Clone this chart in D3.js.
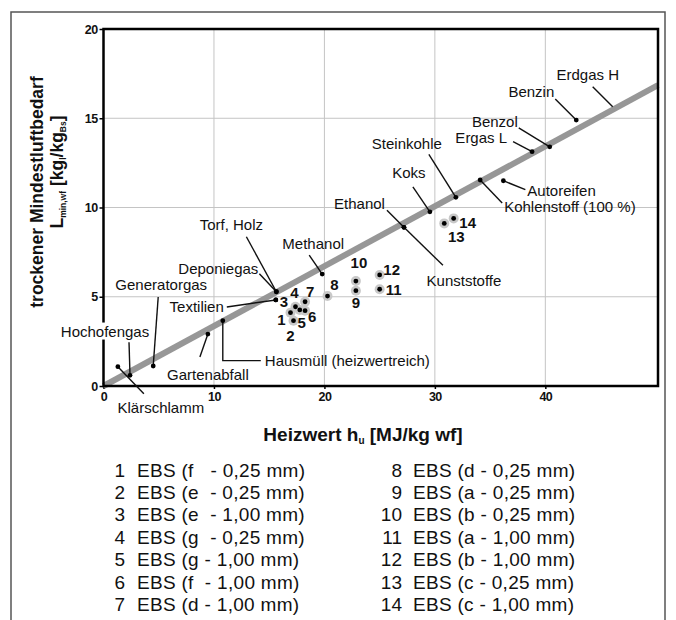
<!DOCTYPE html>
<html>
<head>
<meta charset="utf-8">
<script src="https://cdn.jsdelivr.net/npm/d3@7"></script>
<style>
  body { margin: 0; background: #fff; }
  text { font-family: "Liberation Sans", Arial, sans-serif; }
</style>
</head>
<body>
<div id="chart"></div>
<script>
// fuels plotted on / near the characteristic line
let fuelNames = ['Klärschlamm', 'Hochofengas', 'Generatorgas', 'Gartenabfall', 'Hausmüll (heizwertreich)',
  'Textilien', 'Deponiegas', 'Torf, Holz', 'Methanol', 'Ethanol', 'Kunststoffe', 'Koks', 'Steinkohle',
  'Kohlenstoff (100 %)', 'Autoreifen', 'Ergas L', 'Benzol', 'Benzin', 'Erdgas H'];
let fuelHu = [1.3, 2.4, 4.5, 9.45, 10.8, 15.6, 15.65, 15.65, 19.8, 27.2, 27.2, 29.55, 31.9, 34.1, 36.2, 38.8, 40.4, 42.8, 46.1];
let fuelLmin = [1.08, 0.6, 1.12, 2.91, 3.66, 4.82, 5.28, 5.28, 6.27, 8.89, 8.89, 9.76, 10.57, 11.54, 11.5, 13.13, 13.4, 14.9, 15.65];
let fuelNoDot = ['Erdgas H'];

// EBS samples
let ebsIds = [1, 2, 3, 4, 5, 6, 7, 8, 9, 10, 11, 12, 13, 14];
let ebsHu = [16.93, 17.2, 15.6, 17.38, 17.77, 18.25, 18.25, 20.28, 22.85, 22.85, 25.0, 25.0, 30.85, 31.7];
let ebsLmin = [4.11, 3.66, 4.82, 4.44, 4.26, 4.22, 4.72, 5.04, 5.34, 5.88, 5.42, 6.22, 9.11, 9.39];
let ebsDesc = ['EBS (f   - 0,25 mm)', 'EBS (e  - 0,25 mm)', 'EBS (e  - 1,00 mm)', 'EBS (g  - 0,25 mm)',
  'EBS (g - 1,00 mm)', 'EBS (f  - 1,00 mm)', 'EBS (d - 1,00 mm)', 'EBS (d - 0,25 mm)', 'EBS (a - 0,25 mm)',
  'EBS (b - 0,25 mm)', 'EBS (a - 1,00 mm)', 'EBS (b - 1,00 mm)', 'EBS (c - 0,25 mm)', 'EBS (c - 1,00 mm)'];

// characteristic line
let lineHu = [0, 50.2];
let lineLmin = [0, 16.85];

let xTicks = [0, 10, 20, 30, 40];
let yTicks = [0, 5, 10, 15, 20];

// label layout: pixel offsets from the marked point
let fuelLayout = {
  'Klärschlamm': { lead: [[0, 0], [26, 27]], at: [43, 41], anchor: 'middle' },
  'Hochofengas': { lead: [[0, 0], [-1, -33]], at: [-25, -44], anchor: 'middle', bg: true },
  'Generatorgas': { lead: [[0, 0], [5, -69]], at: [8, -81], anchor: 'middle' },
  'Gartenabfall': { lead: [[0, 0], [-8, 23]], at: [0, 41], anchor: 'middle' },
  'Hausmüll (heizwertreich)': { lead: [[0, 0], [0, 40], [38, 40]], at: [42, 40], anchor: 'start' },
  'Textilien': { lead: [[0, 0], [-49, 7]], at: [-52, 7], anchor: 'end' },
  'Deponiegas': { lead: [[0, 0], [-17, -18]], at: [-18, -23], anchor: 'end' },
  'Torf, Holz': { lead: [[0, 0], [-30, -55]], at: [-45, -67], anchor: 'middle' },
  'Methanol': { lead: [[0, 0], [-13, -19]], at: [-9, -30], anchor: 'middle' },
  'Ethanol': { lead: [[0, 0], [-17, -17]], at: [-19, -24], anchor: 'end' },
  'Kunststoffe': { lead: [[0, 0], [39, 38]], at: [60, 53], anchor: 'middle' },
  'Koks': { lead: [[0, 0], [-17, -25]], at: [-21, -39], anchor: 'middle' },
  'Steinkohle': { lead: [[0, 0], [-27, -43]], at: [-49, -54], anchor: 'middle' },
  'Kohlenstoff (100 %)': { lead: [[0, 0], [22, 23]], at: [24, 27], anchor: 'start' },
  'Autoreifen': { lead: [[0, 0], [22, 9]], at: [24, 10], anchor: 'start' },
  'Ergas L': { lead: [[0, 0], [-19, -10]], at: [-25, -14], anchor: 'end' },
  'Benzol': { lead: [[0, 0], [-31, -19]], at: [-32, -25], anchor: 'end' },
  'Benzin': { lead: [[0, 0], [-21, -21]], at: [-22, -28], anchor: 'end' },
  'Erdgas H': { lead: [[0, 0], [-20, -20]], at: [-25, -32], anchor: 'middle' }
};
let ebsLabelAt = [[-9, 7], [-3, 15], [8, 2], [-1, -14], [2, 13], [7, 6], [5, -10],
  [7, -11], [0, 12], [3, -18], [14, 0], [12, -5], [12, 13], [14, 4]];

let svgWidth = 676;
let svgHeight = 620;
let plot = { left: 103.5, right: 658, top: 29, bottom: 386 };
let ink = '#111';

let svg = d3.select('#chart').append('svg')
  .attr('width', svgWidth)
  .attr('height', svgHeight);

// outer frame
svg.append('rect')
  .attr('x', 11).attr('y', 12)
  .attr('width', 654).attr('height', 640)
  .attr('fill', 'none')
  .attr('stroke', '#555')
  .attr('stroke-width', 1.5);

let x = d3.scaleLinear().domain([0, 50.2]).range([plot.left, plot.right]);
let y = d3.scaleLinear().domain([0, 20]).range([plot.bottom, plot.top]);

// grid
svg.append('g').selectAll('line')
  .data(xTicks.filter(d => d > 0))
  .enter().append('line')
  .attr('x1', d => x(d)).attr('x2', d => x(d))
  .attr('y1', plot.top).attr('y2', plot.bottom)
  .attr('stroke', '#c4c4c4').attr('stroke-width', 1);
svg.append('g').selectAll('line')
  .data(yTicks.filter(d => d > 0 && d < 20))
  .enter().append('line')
  .attr('x1', plot.left).attr('x2', plot.right)
  .attr('y1', d => y(d)).attr('y2', d => y(d))
  .attr('stroke', '#c4c4c4').attr('stroke-width', 1);

// axes
let bottomAxis = d3.axisBottom(x).tickValues(xTicks).tickSize(3).tickPadding(3);
let leftAxis = d3.axisLeft(y).tickValues(yTicks).tickSize(4).tickPadding(2);

let xAxis = svg.append('g')
  .attr('transform', `translate(0, ${plot.bottom})`)
  .call(bottomAxis);
let yAxis = svg.append('g')
  .attr('transform', `translate(${plot.left}, 0)`)
  .call(leftAxis);

[xAxis, yAxis].forEach(a => {
  a.select('.domain').remove();
  a.selectAll('line').attr('stroke', '#000').attr('stroke-width', 1.5);
  a.selectAll('text')
    .attr('font-size', '12.5px')
    .attr('font-weight', 'bold')
    .attr('letter-spacing', '-0.6px')
    .attr('fill', ink);
});

// characteristic line
svg.append('path')
  .datum(lineHu.map((d, i) => [d, lineLmin[i]]))
  .attr('d', d3.line().x(d => x(d[0])).y(d => y(d[1])))
  .attr('stroke', '#979797')
  .attr('stroke-width', 6)
  .attr('fill', 'none');

// plot frame
svg.append('rect')
  .attr('x', plot.left).attr('y', plot.top)
  .attr('width', plot.right - plot.left)
  .attr('height', plot.bottom - plot.top)
  .attr('fill', 'none')
  .attr('stroke', '#000')
  .attr('stroke-width', 2.5);

// fuel annotations
let fuels = fuelNames.map((n, i) => ({ name: n, hu: fuelHu[i], l: fuelLmin[i], lay: fuelLayout[n] }));

let fuelGroup = svg.append('g');
fuels.forEach(f => {
  let px = x(f.hu);
  let py = y(f.l);
  let g = fuelGroup.append('g').attr('transform', `translate(${px}, ${py})`);
  if (f.lay.bg) {
    let t = g.append('text')
      .attr('x', f.lay.at[0]).attr('y', f.lay.at[1]).attr('dy', '0.35em')
      .attr('text-anchor', f.lay.anchor)
      .attr('font-size', '15px')
      .text(f.name);
    let bb = t.node().getBBox();
    t.remove();
    g.append('rect')
      .attr('x', bb.x - 2).attr('y', bb.y)
      .attr('width', bb.width + 4).attr('height', bb.height)
      .attr('fill', '#fff');
  }
  g.append('path')
    .attr('d', d3.line()(f.lay.lead))
    .attr('stroke', ink)
    .attr('stroke-width', 1.4)
    .attr('fill', 'none');
  if (!fuelNoDot.includes(f.name)) {
    g.append('circle').attr('r', 2.4).attr('fill', '#000');
  }
  g.append('text')
    .attr('x', f.lay.at[0]).attr('y', f.lay.at[1]).attr('dy', '0.35em')
    .attr('text-anchor', f.lay.anchor)
    .attr('font-size', '15px')
    .attr('fill', ink)
    .text(f.name);
});

// EBS points
let ebs = ebsIds.map((id, i) => ({ id: id, hu: ebsHu[i], l: ebsLmin[i], at: ebsLabelAt[i] }));

svg.append('g').selectAll('circle')
  .data(ebs.filter(d => d.id !== 3))
  .enter().append('circle')
  .attr('cx', d => x(d.hu)).attr('cy', d => y(d.l))
  .attr('r', 5)
  .attr('fill', '#c8c8c8');

svg.append('g').selectAll('circle')
  .data(ebs)
  .enter().append('circle')
  .attr('cx', d => x(d.hu)).attr('cy', d => y(d.l))
  .attr('r', 2.4)
  .attr('fill', '#000');

svg.append('g').selectAll('text')
  .data(ebs)
  .enter().append('text')
  .attr('x', d => x(d.hu) + d.at[0])
  .attr('y', d => y(d.l) + d.at[1])
  .attr('dy', '0.35em')
  .attr('text-anchor', 'middle')
  .attr('font-size', '15px')
  .attr('font-weight', 'bold')
  .attr('fill', ink)
  .text(d => d.id);

// axis titles
let xTitle = svg.append('text')
  .attr('x', 363).attr('y', 441)
  .attr('text-anchor', 'middle')
  .attr('font-size', '19px')
  .attr('font-weight', 'bold')
  .attr('fill', ink);
xTitle.append('tspan').text('Heizwert h');
xTitle.append('tspan').attr('font-size', '10px').attr('dy', 3).text('u');
xTitle.append('tspan').attr('dy', -3).text(' [MJ/kg wf]');

svg.append('text')
  .attr('transform', 'translate(43, 192) rotate(-90)')
  .attr('text-anchor', 'middle')
  .attr('font-size', '17.5px')
  .attr('font-weight', 'bold')
  .attr('fill', ink)
  .text('trockener Mindestluftbedarf');

let yTitle2 = svg.append('text')
  .attr('transform', 'translate(63, 172) rotate(-90)')
  .attr('text-anchor', 'middle')
  .attr('font-size', '17.5px')
  .attr('font-weight', 'bold')
  .attr('fill', ink);
yTitle2.append('tspan').text('L');
yTitle2.append('tspan').attr('font-size', '8.5px').attr('dy', 3).text('min,wf');
yTitle2.append('tspan').attr('dy', -3).text(' [kg');
yTitle2.append('tspan').attr('font-size', '8.5px').attr('dy', 3).text('l');
yTitle2.append('tspan').attr('dy', -3).text('/kg');
yTitle2.append('tspan').attr('font-size', '8.5px').attr('dy', 3).text('Bs');
yTitle2.append('tspan').attr('dy', -3).text(']');

// legend of EBS samples
let legend = svg.append('g');
ebs.forEach((d, i) => {
  let col = i < 7 ? 0 : 1;
  let row = i % 7;
  let ly = 470 + row * 22.4;
  let numX = col === 0 ? 125 : 402;
  let txtX = col === 0 ? 137 : 413;
  legend.append('text')
    .attr('x', numX).attr('y', ly).attr('dy', '0.35em')
    .attr('text-anchor', 'end')
    .attr('font-size', '19px')
    .attr('fill', ink)
    .text(d.id);
  legend.append('text')
    .attr('x', txtX).attr('y', ly).attr('dy', '0.35em')
    .attr('font-size', '19px')
    .attr('letter-spacing', '0.3px')
    .attr('fill', ink)
    .style('white-space', 'pre')
    .text(ebsDesc[i]);
});
</script>
</body>
</html>
